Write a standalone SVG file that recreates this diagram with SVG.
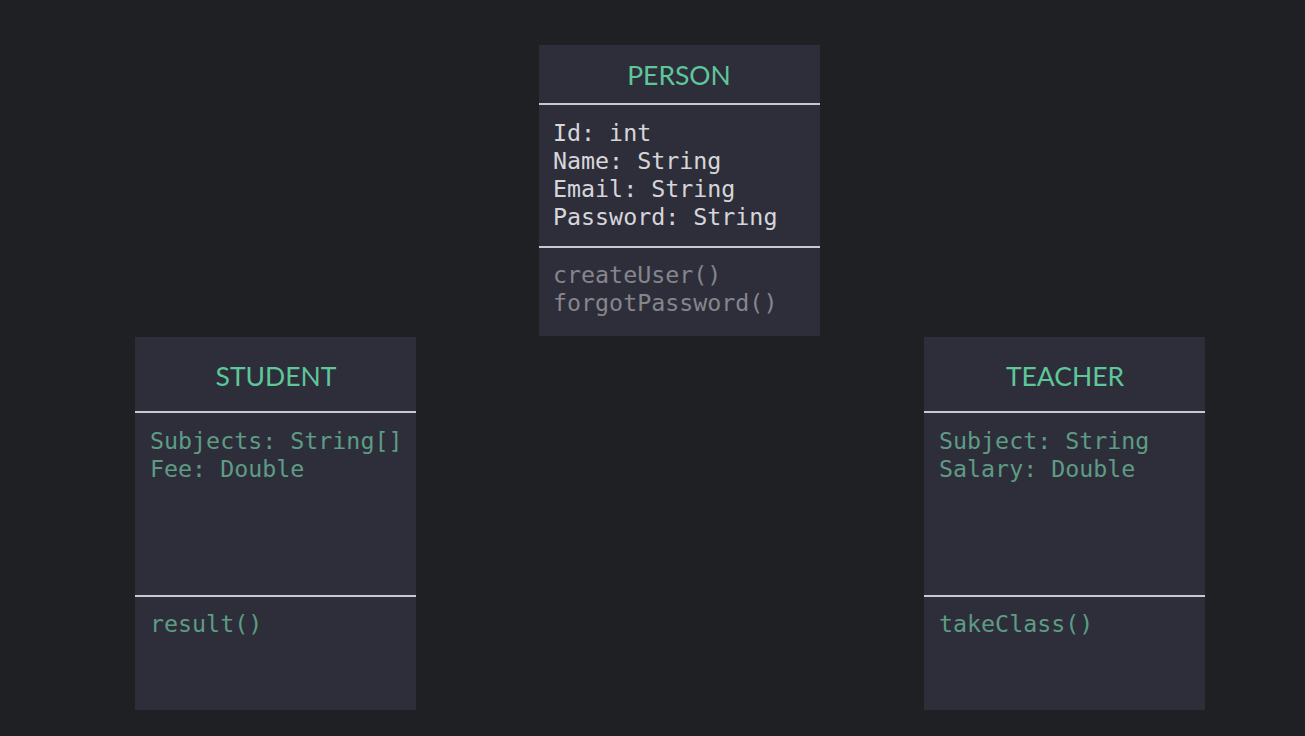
<svg xmlns="http://www.w3.org/2000/svg" width="1305" height="736" viewBox="0 0 1305 736">
<style>
.box{fill:#2e2e3b}
.div{stroke:#c9c9d0;stroke-width:2}
.title{font-family:Lato,"Open Sans",sans-serif;font-size:26.5px;fill:#5ec79a;text-anchor:middle}
.mono{font-family:"DejaVu Sans Mono","Liberation Mono",monospace;font-size:23.3px}
.attr{fill:#d6d6da}
.meth{fill:#85858c}
.sub{fill:#5d9c84}
</style>
<rect width="1305" height="736" fill="#1e2023"/>
<g id="connectors"></g>
<g id="person">
<rect class="box" x="539" y="45" width="281" height="291"/>
<line class="div" x1="539" y1="104" x2="820" y2="104"/>
<line class="div" x1="539" y1="247" x2="820" y2="247"/>
<text class="title" x="679" y="85">PERSON</text>
<text class="mono attr" x="553" y="141">Id: int</text>
<text class="mono attr" x="553" y="169">Name: String</text>
<text class="mono attr" x="553" y="197">Email: String</text>
<text class="mono attr" x="553" y="225">Password: String</text>
<text class="mono meth" x="553" y="283">createUser()</text>
<text class="mono meth" x="553" y="311">forgotPassword()</text>
</g>
<g id="student">
<rect class="box" x="135" y="337" width="281" height="373"/>
<line class="div" x1="135" y1="412" x2="416" y2="412"/>
<line class="div" x1="135" y1="596" x2="416" y2="596"/>
<text class="title" x="276" y="386">STUDENT</text>
<text class="mono sub" x="150" y="449">Subjects: String[]</text>
<text class="mono sub" x="150" y="477">Fee: Double</text>
<text class="mono sub" x="150" y="632">result()</text>
</g>
<g id="teacher">
<rect class="box" x="924" y="337" width="281" height="373"/>
<line class="div" x1="924" y1="412" x2="1205" y2="412"/>
<line class="div" x1="924" y1="596" x2="1205" y2="596"/>
<text class="title" x="1065" y="386">TEACHER</text>
<text class="mono sub" x="939" y="449">Subject: String</text>
<text class="mono sub" x="939" y="477">Salary: Double</text>
<text class="mono sub" x="939" y="632">takeClass()</text>
</g>
</svg>
